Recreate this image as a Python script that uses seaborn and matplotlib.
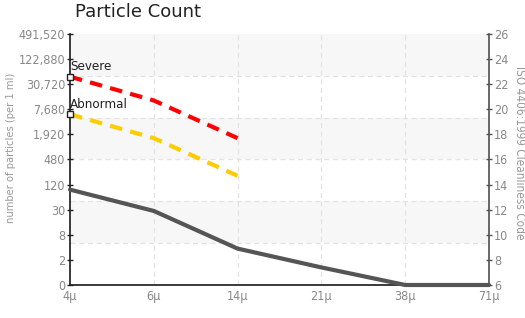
import pandas as pd
import numpy as np
import seaborn as sns
import matplotlib.pyplot as plt

# sizes on the x axis
sizes = ['4μ', '6μ', '14μ', '21μ', '38μ', '71μ']

# ISO codes
sample_code = [13.6, 11.9, 8.9, 7.4, 6.0, 6.0]
severe_code = [22.6, 20.7, 17.7]
abnormal_code = [19.6, 17.7, 14.7]

# left axis labels (particles per ml) at codes 6, 8, ..., 26
count_codes = [6, 8, 10, 12, 14, 16, 18, 20, 22, 24, 26]
count_labels = ['0', '2', '8', '30', '120', '480', '1,920', '7,680',
                '30,720', '122,880', '491,520']

sns.set_theme(style='white')
plt.rcParams['font.family'] = ['DejaVu Sans']
plt.rcParams['font.stretch'] = 'condensed'

fig = plt.figure(figsize=(5.25, 3.18), dpi=100)
ax = fig.add_axes([0.1333, 0.1038, 0.7981, 0.7893])

x = np.arange(len(sizes))
df_sample = pd.DataFrame({'x': x, 'code': sample_code})
df_severe = pd.DataFrame({'x': x[:len(severe_code)], 'code': severe_code})
df_abnormal = pd.DataFrame({'x': x[:len(abnormal_code)], 'code': abnormal_code})

# alternating shaded bands and dashed grid
edges = np.linspace(6, 26, 7)
for i in range(6):
    if i % 2 == 1:
        ax.axhspan(edges[i], edges[i + 1], color='#f7f7f7', zorder=0, lw=0)
for e in edges[1:-1]:
    ax.axhline(e, color='#e3e3e3', ls=(0, (4, 3)), lw=0.9, zorder=0.5)
for xi in x[1:-1]:
    ax.axvline(xi, color='#e3e3e3', ls=(0, (4, 3)), lw=0.9, zorder=0.5)

sns.lineplot(data=df_sample, x='x', y='code', ax=ax, color='#555555', lw=3,
             clip_on=False, zorder=3)
sns.lineplot(data=df_severe, x='x', y='code', ax=ax, color='#ff0000', lw=3,
             zorder=3)
ax.lines[-1].set_linestyle((0, (3, 2)))
sns.lineplot(data=df_abnormal, x='x', y='code', ax=ax, color='#ffcc00', lw=3,
             zorder=3)
ax.lines[-1].set_linestyle((0, (3, 2)))

# markers and labels for limit lines
for name, vals in [('Severe', severe_code), ('Abnormal', abnormal_code)]:
    ax.plot([0], [vals[0]], marker='s', ms=5, mfc='white', mec='#222222',
            mew=1, clip_on=False, zorder=5)
    ax.text(0.0, vals[0] + 0.3, name, fontsize=9.5, color='#222222',
            ha='left', va='bottom', zorder=6)

ax.set_xlim(0, len(sizes) - 1)
ax.set_ylim(6, 26)
ax.set_xticks(x)
ax.set_xticklabels(sizes)
ax.set_yticks(count_codes)
ax.set_yticklabels(count_labels)
ax.set_xlabel('')
ax.set_ylabel('number of particles (per 1 ml)', color='#999999', fontsize=8)
ax.yaxis.set_label_coords(-0.128, 0.545)

ax2 = ax.twinx()
ax2.set_ylim(6, 26)
ax2.set_yticks(count_codes)
ax2.set_ylabel('ISO 4406:1999 Cleanliness Code', color='#999999',
               fontsize=8.5, rotation=270, va='bottom')
ax2.yaxis.set_label_coords(1.058, 0.525)

for a in (ax, ax2):
    for s in a.spines.values():
        s.set_visible(False)
    a.tick_params(colors='#222222', labelcolor='#888888', labelsize=9,
                  direction='inout', length=5, width=1, pad=1)
ax.spines['left'].set_visible(True)
ax.spines['left'].set_color('#222222')
ax.spines['bottom'].set_visible(True)
ax.spines['bottom'].set_color('#222222')
ax2.spines['right'].set_visible(True)
ax2.spines['right'].set_color('#555555')
ax2.tick_params(colors='#555555', labelcolor='#888888')

fig.text(0.143, 0.935, 'Particle Count', fontsize=13, color='#222222',
         stretch='normal', ha='left', va='bottom')

fig.savefig('out.png', dpi=100)
